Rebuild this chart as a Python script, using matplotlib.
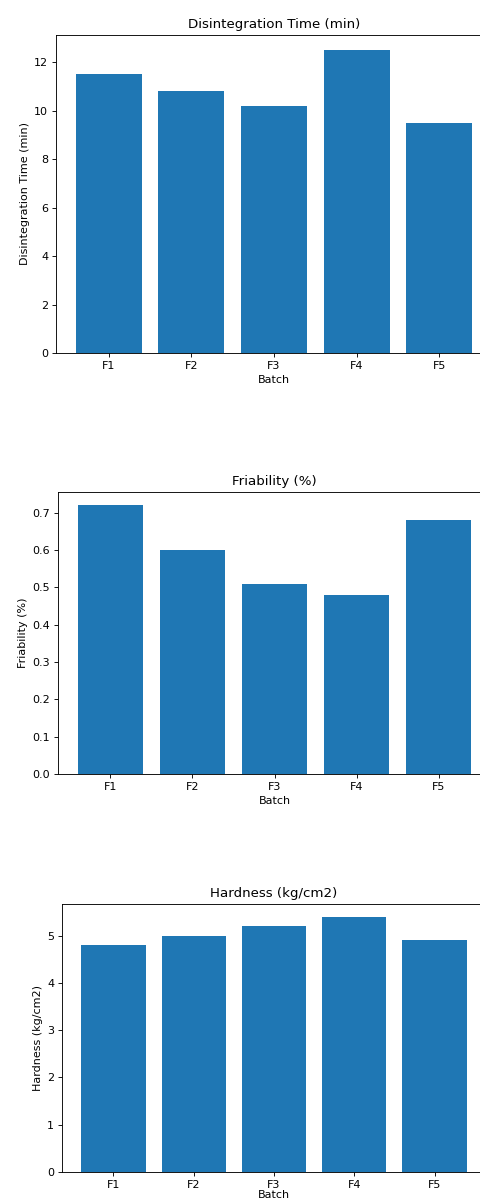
import matplotlib
matplotlib.use("Agg")
import matplotlib.pyplot as plt

batches = ["F1", "F2", "F3", "F4", "F5"]
disintegration = [11.5, 10.8, 10.2, 12.5, 9.5]
friability = [0.72, 0.60, 0.51, 0.48, 0.68]
hardness = [4.8, 5.0, 5.2, 5.4, 4.9]

W, H = 480, 1201
DPI = 80
fig = plt.figure(figsize=(W / DPI, H / DPI), dpi=DPI)

def px_axes(left, right, top, bottom):
    return fig.add_axes([left / W, 1 - bottom / H, (right - left) / W, (bottom - top) / H])

panels = [
    ((56, 492, 35, 353), disintegration, "Disintegration Time (min)", 4.0),
    ((58, 491, 492, 774), friability, "Friability (%)", 4.0),
    ((62, 486, 904, 1172), hardness, "Hardness (kg/cm2)", 0.5),
]

for (l, r, t, b), vals, name, pad in panels:
    ax = px_axes(l, r, t, b)
    ax.bar(batches, vals, color="#1f77b4")
    ax.set_title(name)
    ax.set_xlabel("Batch", labelpad=pad)
    ax.set_ylabel(name)

fig.savefig("out.png", dpi=DPI)
